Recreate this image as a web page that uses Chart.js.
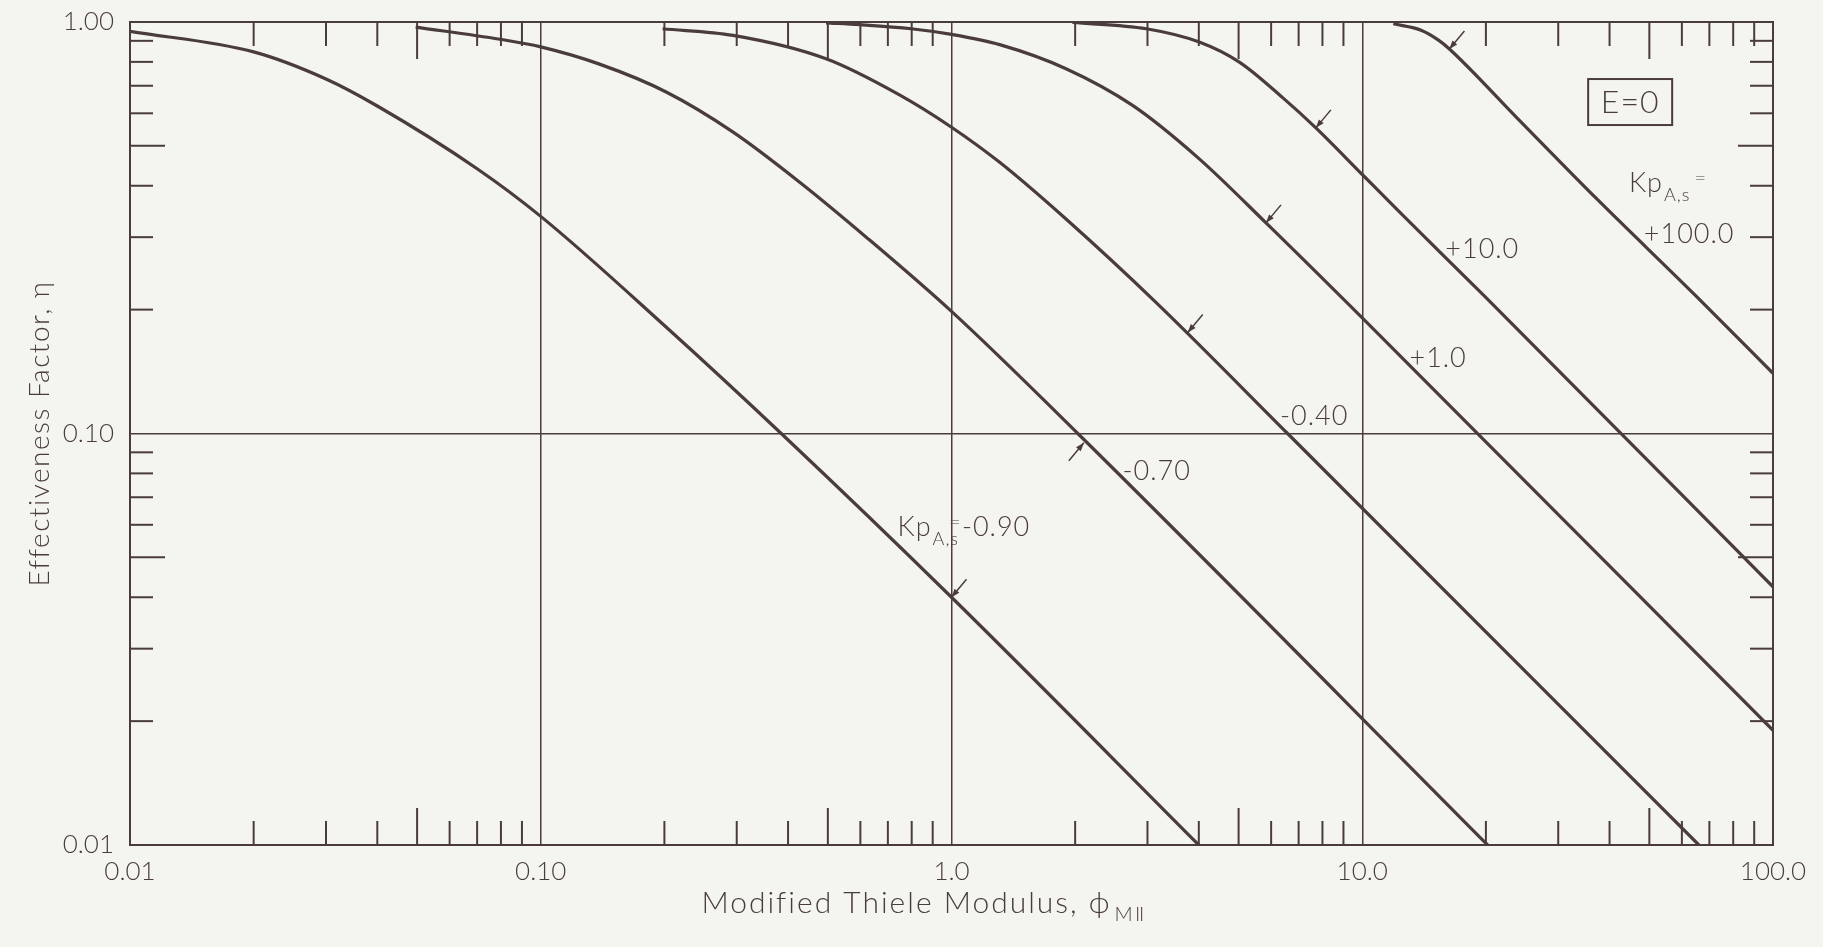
<!DOCTYPE html>
<html>
<head>
<meta charset="utf-8">
<title>Effectiveness Factor, E=0</title>
<script src="https://cdn.jsdelivr.net/npm/chart.js@4.4.1/dist/chart.umd.min.js"></script>
<style>
  html, body { margin: 0; padding: 0; background: #f4f4f1; }
  canvas { display: block; }
</style>
</head>
<body>
<canvas id="grafico" width="1823" height="947"></canvas>
<script>
const tinta = "#4a3c3c";
const fondo = "#f4f4f1";
const letra = "Lato, 'DejaVu Sans', sans-serif";

//ejes
const phi_ticks = [0.01, 0.1, 1, 10, 100];
const phi_labels = ["0.01", "0.10", "1.0", "10.0", "100.0"];
const eta_ticks = [0.01, 0.1, 1];
const eta_labels = ["0.01", "0.10", "1.00"];
const menores = [2, 3, 4, 5, 6, 7, 8, 9];
const phi_decadas = [0.01, 0.1, 1, 10];
const eta_decadas = [0.01, 0.1];

//Kp = -0.90
const phi_n090 = [0.01, 0.02, 0.03, 0.04, 0.07, 0.1, 0.2, 0.385, 1.0, 4.0];
const eta_n090 = [0.949, 0.846, 0.727, 0.625, 0.44, 0.337, 0.183, 0.1, 0.04, 0.01];

//Kp = -0.70
const phi_n070 = [0.0496, 0.0795, 0.1, 0.139, 0.202, 0.294, 0.427, 0.62, 1.0, 2.03, 20.2];
const eta_n070 = [0.972, 0.908, 0.87, 0.79, 0.676, 0.54, 0.408, 0.3, 0.198, 0.1, 0.01];

//Kp = -0.40
const phi_n040 = [0.198, 0.294, 0.495, 0.747, 1.0, 1.31, 1.9, 3.15, 6.58, 66];
const eta_n040 = [0.963, 0.928, 0.814, 0.665, 0.555, 0.456, 0.332, 0.208, 0.1, 0.01];

//Kp = +1.0
const phi_p1 = [0.495, 0.597, 0.798, 1.0, 1.31, 1.9, 2.76, 4.01, 5.83, 10, 100];
const eta_p1 = [0.995, 0.985, 0.963, 0.933, 0.881, 0.77, 0.627, 0.465, 0.325, 0.191, 0.019];

//Kp = +10.0
const phi_p10 = [1.97, 2.98, 4.01, 5.02, 6.4, 7.71, 10, 12.3, 19.9, 100];
const eta_p10 = [0.998, 0.963, 0.894, 0.799, 0.655, 0.553, 0.426, 0.346, 0.215, 0.0424];

//Kp = +100.0
const phi_p100 = [11.9, 13.95, 15.3, 16.3, 23.8, 37.2, 64.9, 100];
const eta_p100 = [0.99, 0.954, 0.905, 0.86, 0.585, 0.372, 0.216, 0.14];

//flechas sobre las curvas
const flechas_phi = [1.0, 2.1, 3.76, 5.83, 7.71, 16.3];
const flechas_eta = [0.04, 0.095, 0.176, 0.325, 0.553, 0.86];
const flechas_lado = [1, -1, 1, 1, 1, 1];

//textos de las curvas (centro en coordenadas de datos)
const etiquetas = [
  { texto: "+100.0", phi: 62.5, eta: 0.305 },
  { texto: "+10.0", phi: 19.6, eta: 0.28 },
  { texto: "+1.0", phi: 15.3, eta: 0.152 },
  { texto: "-0.40", phi: 7.64, eta: 0.11 },
  { texto: "-0.70", phi: 3.16, eta: 0.0808 },
];

const puntos = (xs, ys) => xs.map((x, i) => ({ x: x, y: ys[i] }));

const curva = (xs, ys) => ({
  data: puntos(xs, ys),
  borderColor: tinta,
  borderWidth: 3.2,
  pointRadius: 0,
  fill: false,
  cubicInterpolationMode: "monotone",
});

function linea(ctx, x1, y1, x2, y2) {
  ctx.beginPath();
  ctx.moveTo(x1, y1);
  ctx.lineTo(x2, y2);
  ctx.stroke();
}

function fuente(tam) {
  return "300 " + tam + "px " + letra;
}

//Kp con subindice A,s
function kp(ctx, x0, y0, resto) {
  ctx.textAlign = "left";
  ctx.textBaseline = "alphabetic";
  ctx.font = fuente(27);
  ctx.fillText("Kp", x0, y0);
  let x = x0 + ctx.measureText("Kp").width + 1;
  ctx.font = fuente(18);
  ctx.fillText("A,s", x, y0 + 9);
  const wsub = ctx.measureText("A,s").width;
  ctx.font = fuente(20);
  if (resto) {
    ctx.fillText("=", x + wsub - 10, y0 - 7);
    ctx.font = fuente(27);
    ctx.fillText(resto, x + wsub + 3, y0);
  } else {
    ctx.fillText("=", x + wsub + 4, y0 - 7);
  }
}

const fondoPlugin = {
  id: "fondo",
  beforeDraw(chart) {
    const ctx = chart.ctx;
    ctx.save();
    ctx.fillStyle = fondo;
    ctx.fillRect(0, 0, chart.width, chart.height);
    ctx.restore();
  },
};

const dibujo = {
  id: "dibujo",
  afterDraw(chart) {
    const ctx = chart.ctx;
    const a = chart.chartArea;
    const sx = chart.scales.x;
    const sy = chart.scales.y;
    ctx.save();
    ctx.strokeStyle = tinta;
    ctx.fillStyle = tinta;

    //marco
    ctx.lineWidth = 2;
    ctx.strokeRect(a.left, a.top, a.right - a.left, a.bottom - a.top);

    //marcas menores
    phi_decadas.forEach((d) => {
      menores.forEach((m) => {
        const px = sx.getPixelForValue(d * m);
        const largo = m === 5 ? 37 : 24;
        linea(ctx, px, a.bottom, px, a.bottom - largo);
        linea(ctx, px, a.top, px, a.top + largo);
      });
    });
    eta_decadas.forEach((d) => {
      menores.forEach((m) => {
        const py = sy.getPixelForValue(d * m);
        const largo = m === 5 ? 35 : 23;
        linea(ctx, a.left, py, a.left + largo, py);
        linea(ctx, a.right, py, a.right - largo, py);
      });
    });

    //flechas
    ctx.lineWidth = 1.5;
    flechas_phi.forEach((p, i) => {
      const px = sx.getPixelForValue(p);
      const py = sy.getPixelForValue(flechas_eta[i]);
      const s = flechas_lado[i];
      const tx = px + s * 15;
      const ty = py - s * 18;
      linea(ctx, tx, ty, px, py);
      const ang = Math.atan2(py - ty, px - tx);
      ctx.beginPath();
      ctx.moveTo(px, py);
      ctx.lineTo(px - 9 * Math.cos(ang - 0.35), py - 9 * Math.sin(ang - 0.35));
      ctx.lineTo(px - 9 * Math.cos(ang + 0.35), py - 9 * Math.sin(ang + 0.35));
      ctx.closePath();
      ctx.fill();
    });

    //textos de curvas
    ctx.letterSpacing = "1px";
    ctx.font = fuente(27);
    ctx.textAlign = "center";
    ctx.textBaseline = "middle";
    etiquetas.forEach((e) => {
      ctx.fillText(e.texto, sx.getPixelForValue(e.phi), sy.getPixelForValue(e.eta));
    });
    kp(ctx, sx.getPixelForValue(44.6), sy.getPixelForValue(0.386), null);
    kp(ctx, sx.getPixelForValue(0.739), sy.getPixelForValue(0.0562), "-0.90");

    //caja E=0
    const bx = sx.getPixelForValue(44.9);
    const by = sy.getPixelForValue(0.639);
    ctx.lineWidth = 2;
    ctx.strokeRect(bx - 42, by - 23, 84, 46);
    ctx.font = fuente(32);
    ctx.textAlign = "center";
    ctx.textBaseline = "middle";
    ctx.fillText("E=0", bx, by + 1);

    //titulo eje y
    ctx.letterSpacing = "1.5px";
    ctx.font = fuente(28);
    ctx.textAlign = "center";
    ctx.textBaseline = "alphabetic";
    ctx.save();
    ctx.translate(49, (a.top + a.bottom) / 2);
    ctx.rotate(-Math.PI / 2);
    ctx.fillText("Effectiveness Factor, η", 0, 0);
    ctx.restore();

    //titulo eje x
    const t1 = "Modified Thiele Modulus, ϕ";
    const t2 = "MⅡ";
    ctx.letterSpacing = "2px";
    ctx.font = fuente(30);
    const w1 = ctx.measureText(t1).width;
    ctx.font = fuente(20);
    const w2 = ctx.measureText(t2).width;
    const x0 = 924 - (w1 + 3 + w2) / 2;
    ctx.textAlign = "left";
    ctx.font = fuente(30);
    ctx.fillText(t1, x0, 913);
    ctx.font = fuente(20);
    ctx.fillText(t2, x0 + w1 + 3, 921);

    ctx.restore();
  },
};

new Chart(document.getElementById("grafico"), {
  type: "line",
  data: {
    datasets: [
      curva(phi_n090, eta_n090),
      curva(phi_n070, eta_n070),
      curva(phi_n040, eta_n040),
      curva(phi_p1, eta_p1),
      curva(phi_p10, eta_p10),
      curva(phi_p100, eta_p100),
    ],
  },
  options: {
    responsive: false,
    animation: false,
    devicePixelRatio: 1,
    layout: { padding: { top: 22, right: 50, left: 0, bottom: 0 } },
    plugins: {
      legend: { display: false },
      tooltip: { enabled: false },
    },
    scales: {
      x: {
        type: "logarithmic",
        min: 0.01,
        max: 100,
        afterBuildTicks: (ax) => {
          ax.ticks = phi_ticks.map((v) => ({ value: v }));
        },
        afterFit: (ax) => {
          ax.height = 102;
        },
        ticks: {
          autoSkip: false,
          maxRotation: 0,
          padding: 11,
          color: tinta,
          font: { family: letra, size: 26, weight: "300" },
          callback: (v, i) => phi_labels[i],
        },
        grid: { color: tinta, lineWidth: 1.5, drawTicks: false },
        border: { display: false },
      },
      y: {
        type: "logarithmic",
        min: 0.01,
        max: 1,
        afterBuildTicks: (ax) => {
          ax.ticks = eta_ticks.map((v) => ({ value: v }));
        },
        afterFit: (ax) => {
          ax.width = 130;
          ax.paddingTop = 0;
          ax.paddingBottom = 0;
        },
        ticks: {
          autoSkip: false,
          padding: 16,
          color: tinta,
          font: { family: letra, size: 26, weight: "300" },
          callback: (v, i) => eta_labels[i],
        },
        grid: { color: tinta, lineWidth: 1.5, drawTicks: false },
        border: { display: false },
      },
    },
  },
  plugins: [fondoPlugin, dibujo],
});
</script>
</body>
</html>
